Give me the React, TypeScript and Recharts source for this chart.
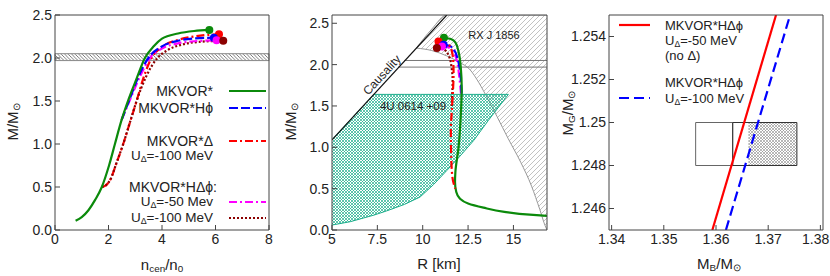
import React from 'react';
import { ComposedChart, Line, Area, Scatter, XAxis, YAxis, ReferenceArea } from 'recharts';

const FONT = '"Liberation Sans", Arial, Helvetica, sans-serif';
const INK = '#222';
const FRAME = '#444';
const GREEN = '#0b8a0b';
const BLUE = '#0000ff';
const RED = '#ff0000';
const MAGENTA = '#ff00ff';
const DARKRED = '#8b0000';
const TEAL = '#19ad8a';

// ---- left panel: M/M_sun vs n_cen/n0 ----
const mkvor = [[0.77, 0.108], [1.0, 0.15], [1.25, 0.23], [1.5, 0.35], [1.75, 0.5], [2.02, 0.75], [2.24, 1.0], [2.49, 1.28], [2.75, 1.52], [3.05, 1.76], [3.36, 2.0], [3.7, 2.14], [4.0, 2.225], [4.6, 2.285], [5.2, 2.314], [5.77, 2.326]];
const mkvorH = [[2.49, 1.28], [2.8, 1.53], [3.1, 1.77], [3.49, 2.0], [4.0, 2.135], [4.6, 2.2], [5.2, 2.228], [5.94, 2.236]];
const mkvorD = [[1.75, 0.5], [1.9, 0.52], [2.06, 0.58], [2.3, 0.78], [2.55, 1.0], [2.8, 1.25], [3.05, 1.5], [3.34, 1.8], [3.61, 2.0], [4.0, 2.13], [4.6, 2.21], [5.2, 2.25], [6.13, 2.276]];
const mkvorHD50 = [[2.49, 1.28], [2.85, 1.55], [3.2, 1.8], [3.55, 2.0], [4.0, 2.11], [4.6, 2.17], [5.2, 2.195], [6.04, 2.205]];
const mkvorHD100 = [[1.75, 0.5], [1.9, 0.52], [2.06, 0.58], [2.3, 0.78], [2.55, 1.0], [2.8, 1.25], [3.05, 1.5], [3.4, 1.78], [3.8, 1.99], [4.2, 2.09], [4.8, 2.16], [5.5, 2.19], [6.29, 2.2]];
const psrBand = [1.97, 2.05];

// ---- middle panel: M/M_sun vs R [km] ----
const rMkvor = [[11.17, 2.325], [11.55, 2.31], [11.8, 2.27], [11.97, 2.16], [12.1, 1.96], [12.15, 1.71], [12.1, 1.39], [11.97, 0.99], [11.8, 0.7], [11.78, 0.58], [11.85, 0.46], [12.05, 0.38], [12.5, 0.32], [13.35, 0.27], [14.5, 0.22], [15.9, 0.185], [16.85, 0.17]];
const rMkvorH = [[11.15, 2.24], [11.45, 2.23], [11.75, 2.17], [11.95, 2.05], [12.07, 1.9], [12.12, 1.75], [12.15, 1.65]];
const rMkvorD = [[10.87, 2.28], [11.3, 2.26], [11.55, 2.2], [11.68, 2.05], [11.7, 1.9], [11.62, 1.5], [11.55, 1.2], [11.57, 0.9], [11.63, 0.65], [11.72, 0.55], [11.8, 0.5]];
const rMkvorHD50 = [[11.06, 2.22], [11.4, 2.21], [11.7, 2.15], [11.9, 2.03], [12.0, 1.88], [12.08, 1.72], [12.13, 1.6]];
const rMkvorHD100 = [[10.78, 2.2], [11.2, 2.18], [11.45, 2.1], [11.6, 1.95], [11.65, 1.8], [11.62, 1.6], [11.6, 1.5]];
const causality = [[5, 1.09], [11.33, 2.6]];
const psrUpper = [[9.0, 2.05], [16.85, 2.05]];
const psrLower = [[8.65, 1.97], [16.85, 1.97]];

// RX J 1856 region (R, lower M, upper M)
const rxR = [9.65, 10.5, 11.33, 12.0, 12.6, 13.1, 13.6, 14.1, 14.7, 15.4, 16.0, 16.45, 16.75, 16.85];
const rxLow = [2.2, 2.17, 2.105, 2.03, 1.94, 1.78, 1.58, 1.37, 1.11, 0.82, 0.53, 0.25, 0.05, 0];
const rxHigh = [2.2, 2.43, 2.6, 2.6, 2.6, 2.6, 2.6, 2.6, 2.6, 2.6, 2.6, 2.6, 2.6, 2.6];

// 4U 0614+09 region
const uR = [5, 6, 7.31, 8, 9, 9.86, 10.6, 11.33, 12.0, 12.8, 13.6, 14.72];
const uLow = [0.06, 0.1, 0.18, 0.23, 0.31, 0.4, 0.55, 0.72, 0.88, 1.08, 1.32, 1.64];
const uHigh = [1.09, 1.33, 1.64, 1.64, 1.64, 1.64, 1.64, 1.64, 1.64, 1.64, 1.64, 1.64];

// ---- right panel: M_G vs M_B ----
const hd50 = [[1.3593, 1.245], [1.3715, 1.255]];
const hd100 = [[1.3619, 1.245], [1.3742, 1.255]];
const boxMB = [1.3561, 1.3632, 1.3662, 1.3755];
const boxMG = [1.248, 1.25];

const pts = (a: number[][]) => a.map(([x, y]) => ({ x, y }));
const first = (a: number[][]) => [{ x: a[0][0], y: a[0][1] }];
const last = (a: number[][]) => [{ x: a[a.length - 1][0], y: a[a.length - 1][1] }];
const band = (xs: number[], lo: number[], hi: number[]) => xs.map((x, i) => ({ x, r: [lo[i], hi[i]] }));
const steps = (a: number, b: number, s: number) => {
  const out: number[] = [];
  for (let i = 0; a + i * s <= b + 1e-9; i++) out.push(+(a + i * s).toFixed(6));
  return out;
};

type Dom = [number, number];
const axisLine = { stroke: FRAME, strokeWidth: 1 };
const tickFont = { fontSize: 14, fill: INK, fontFamily: FONT };

// bottom tick labels, pulled in so the last one stays inside the chart
const xTick = (fx: (v: number) => string, maxX: number) => (p: any) => {
  const s = fx(p.payload.value);
  const half = s.length * 3.6;
  return (
    <text x={Math.min(p.x, maxX - half)} y={p.y} dy="0.71em" textAnchor="middle" fontSize={14} fill={INK} fontFamily={FONT}>
      {s}
    </text>
  );
};

// each side: major axis (against the plot) + minor axis (1px outside, no axis line)
function frameAxes(w: number, xd: Dom, xMaj: number[], xMin: number[], fx: (v: number) => string,
  yd: Dom, yMaj: number[], yMin: number[], fy: (v: number) => string) {
  const base = { type: 'number' as const, allowDataOverflow: true, tickLine: axisLine, interval: 0 as const };
  return [
    <XAxis key="xb" xAxisId="x" dataKey="x" orientation="bottom" domain={xd} ticks={xMaj} height={1} tickSize={-5} tickMargin={9} tick={xTick(fx, w)} axisLine={axisLine} {...base} />,
    <XAxis key="xbm" xAxisId="xbm" orientation="bottom" domain={xd} ticks={xMin} height={1} tickSize={-4} tick={false} axisLine={false} {...base} />,
    <XAxis key="xt" xAxisId="xt" orientation="top" domain={xd} ticks={xMaj} height={1} tickSize={-5} tick={false} axisLine={axisLine} {...base} />,
    <XAxis key="xtm" xAxisId="xtm" orientation="top" domain={xd} ticks={xMin} height={1} tickSize={-4} tick={false} axisLine={false} {...base} />,
    <YAxis key="yl" yAxisId="y" orientation="left" domain={yd} ticks={yMaj} tickFormatter={fy} width={1} tickSize={-5} tickMargin={8} tick={tickFont} axisLine={axisLine} {...base} />,
    <YAxis key="ylm" yAxisId="ylm" orientation="left" domain={yd} ticks={yMin} width={1} tickSize={-4} tick={false} axisLine={false} {...base} />,
    <YAxis key="yr" yAxisId="yr" orientation="right" domain={yd} ticks={yMaj} width={1} tickSize={-5} tick={false} axisLine={axisLine} {...base} />,
    <YAxis key="yrm" yAxisId="yrm" orientation="right" domain={yd} ticks={yMin} width={1} tickSize={-4} tick={false} axisLine={false} {...base} />,
  ];
}

const dot = (color: string) => (p: any) => <circle cx={p.cx} cy={p.cy} r={4} fill={color} />;

function T({ x, y, a = 'start', size = 14, rot = 0, children }: { x: number; y: number; a?: string; size?: number; rot?: number; children: React.ReactNode }) {
  const tx = a === 'middle' ? '-50%' : a === 'end' ? '-100%' : '0%';
  return (
    <div style={{ position: 'absolute', left: x, top: y, transform: `translate(${tx}, -50%) rotate(${rot}deg)`, fontSize: size, fontFamily: FONT, color: INK, whiteSpace: 'nowrap', lineHeight: 1 }}>
      {children}
    </div>
  );
}
const Sub = ({ children }: { children: React.ReactNode }) => (
  <span style={{ fontSize: '0.66em', position: 'relative', top: '0.22em' }}>{children}</span>
);
function Sample({ x, y, w, color, dash, width = 2.2 }: { x: number; y: number; w: number; color: string; dash?: string; width?: number }) {
  return (
    <svg style={{ position: 'absolute', left: x, top: y - 3 }} width={w} height={6}>
      <line x1={0} y1={3} x2={w} y2={3} stroke={color} strokeWidth={width} strokeDasharray={dash} />
    </svg>
  );
}

const ln = { xAxisId: 'x', yAxisId: 'y', dataKey: 'y', dot: false, isAnimationActive: false, strokeWidth: 2.2 };

export default function App() {
  return (
    <div style={{ position: 'absolute', left: 0, top: 0, width: 830, height: 276, background: '#fff', overflow: 'hidden' }}>
      {/* left panel */}
      <div style={{ position: 'absolute', left: 0, top: 0 }}>
        <ComposedChart width={280} height={276} margin={{ top: 13, left: 53, right: 9, bottom: 44 }}>
          <defs>
            <pattern id="hatchBand" patternUnits="userSpaceOnUse" width={3.5} height={3.5}>
              <path d="M0,0 L3.5,3.5 M-1,2.5 L1,4.5 M2.5,-1 L4.5,1" stroke="#444" strokeWidth={0.7} />
            </pattern>
          </defs>
          {frameAxes(280, [0, 8], [0, 2, 4, 6, 8], steps(0, 8, 0.5), (v) => String(v),
            [0, 2.5], steps(0, 2.5, 0.5), steps(0, 2.5, 0.25), (v) => v.toFixed(1))}
          <ReferenceArea xAxisId="x" yAxisId="y" x1={0} x2={8} y1={psrBand[0]} y2={psrBand[1]} fill="url(#hatchBand)" fillOpacity={1} stroke="#888" strokeWidth={1} />
          <Line {...ln} data={pts(mkvorD)} type="monotone" stroke={RED} strokeDasharray="8 3 2 3" />
          <Line {...ln} data={pts(mkvorHD100)} type="monotone" stroke={DARKRED} strokeDasharray="2 2" />
          <Line {...ln} data={pts(mkvorHD50)} type="monotone" stroke={MAGENTA} strokeDasharray="8 3 2 3" />
          <Line {...ln} data={pts(mkvorH)} type="monotone" stroke={BLUE} strokeDasharray="9 3" />
          <Line {...ln} data={pts(mkvor)} type="monotone" stroke={GREEN} />
          <Scatter xAxisId="x" yAxisId="y" dataKey="y" data={last(mkvor)} shape={dot(GREEN)} isAnimationActive={false} />
          <Scatter xAxisId="x" yAxisId="y" dataKey="y" data={last(mkvorD)} shape={dot(RED)} isAnimationActive={false} />
          <Scatter xAxisId="x" yAxisId="y" dataKey="y" data={last(mkvorH)} shape={dot(BLUE)} isAnimationActive={false} />
          <Scatter xAxisId="x" yAxisId="y" dataKey="y" data={last(mkvorHD50)} shape={dot(MAGENTA)} isAnimationActive={false} />
          <Scatter xAxisId="x" yAxisId="y" dataKey="y" data={last(mkvorHD100)} shape={dot(DARKRED)} isAnimationActive={false} />
        </ComposedChart>
      </div>

      {/* middle panel */}
      <div style={{ position: 'absolute', left: 280, top: 0 }}>
        <ComposedChart width={280} height={276} margin={{ top: 13, left: 50, right: 11, bottom: 44 }}>
          <defs>
            <pattern id="hatchGray" patternUnits="userSpaceOnUse" width={5} height={5}>
              <path d="M0,5 L5,0 M-1,1 L1,-1 M4,6 L6,4" stroke="#999" strokeWidth={0.6} />
            </pattern>
            <pattern id="hatchTeal" patternUnits="userSpaceOnUse" width={3} height={3}>
              <path d="M0,0 L3,3 M0,3 L3,0" stroke={TEAL} strokeWidth={0.7} />
            </pattern>
          </defs>
          {frameAxes(280, [5, 16.85], [5, 7.5, 10, 12.5, 15], steps(5, 16.5, 0.5), (v) => String(v),
            [0, 2.6], steps(0, 2.5, 0.5), steps(0, 2.5, 0.25), (v) => v.toFixed(1))}
          <Area xAxisId="x" yAxisId="y" dataKey="r" data={band(rxR, rxLow, rxHigh)} type="monotone" fill="url(#hatchGray)" fillOpacity={1} stroke="#999" strokeWidth={1} isAnimationActive={false} />
          <Area xAxisId="x" yAxisId="y" dataKey="r" data={band(uR, uLow, uHigh)} type="linear" fill="url(#hatchTeal)" fillOpacity={1} stroke={TEAL} strokeWidth={1} isAnimationActive={false} />
          <Line {...ln} data={pts(psrUpper)} type="linear" stroke="#777" strokeWidth={1} />
          <Line {...ln} data={pts(psrLower)} type="linear" stroke="#777" strokeWidth={1} />
          <Line {...ln} data={pts(causality)} type="linear" stroke="#111" strokeWidth={1.2} />
          <Line {...ln} data={pts(rMkvorHD100)} type="monotoneY" stroke={DARKRED} strokeDasharray="2 2" />
          <Line {...ln} data={pts(rMkvorHD50)} type="monotoneY" stroke={MAGENTA} strokeDasharray="8 3 2 3" />
          <Line {...ln} data={pts(rMkvorH)} type="monotoneY" stroke={BLUE} strokeDasharray="9 3" />
          <Line {...ln} data={pts(rMkvor)} type="monotoneY" stroke={GREEN} />
          <Line {...ln} data={pts(rMkvorD)} type="monotoneY" stroke={RED} strokeDasharray="8 3 2 3" />
          <Scatter xAxisId="x" yAxisId="y" dataKey="y" data={first(rMkvor)} shape={dot(GREEN)} isAnimationActive={false} />
          <Scatter xAxisId="x" yAxisId="y" dataKey="y" data={first(rMkvorD)} shape={dot(RED)} isAnimationActive={false} />
          <Scatter xAxisId="x" yAxisId="y" dataKey="y" data={first(rMkvorH)} shape={dot(BLUE)} isAnimationActive={false} />
          <Scatter xAxisId="x" yAxisId="y" dataKey="y" data={first(rMkvorHD50)} shape={dot(MAGENTA)} isAnimationActive={false} />
          <Scatter xAxisId="x" yAxisId="y" dataKey="y" data={first(rMkvorHD100)} shape={dot(DARKRED)} isAnimationActive={false} />
        </ComposedChart>
      </div>

      {/* right panel */}
      <div style={{ position: 'absolute', left: 560, top: 0 }}>
        <ComposedChart width={270} height={276} margin={{ top: 13, left: 47, right: 5, bottom: 44 }}>
          <defs>
            <pattern id="hatchCross" patternUnits="userSpaceOnUse" width={3} height={3}>
              <path d="M0,0 L3,3 M0,3 L3,0" stroke="#888" strokeWidth={0.6} />
            </pattern>
          </defs>
          {frameAxes(270, [1.3395, 1.3805], [1.34, 1.35, 1.36, 1.37, 1.38], steps(1.34, 1.38, 0.002), (v) => v.toFixed(2),
            [1.245, 1.255], [1.246, 1.248, 1.25, 1.252, 1.254], steps(1.245, 1.255, 0.0005), (v) => String(+v.toFixed(3)))}
          <ReferenceArea xAxisId="x" yAxisId="y" x1={boxMB[2]} x2={boxMB[3]} y1={boxMG[0]} y2={boxMG[1]} fill="url(#hatchCross)" fillOpacity={1} stroke="none" />
          <ReferenceArea xAxisId="x" yAxisId="y" x1={boxMB[0]} x2={boxMB[1]} y1={boxMG[0]} y2={boxMG[1]} fill="none" stroke="#666" strokeWidth={1} />
          <ReferenceArea xAxisId="x" yAxisId="y" x1={boxMB[1]} x2={boxMB[3]} y1={boxMG[0]} y2={boxMG[1]} fill="none" stroke="#333" strokeWidth={1} />
          <Line {...ln} data={pts(hd50)} type="linear" stroke={RED} />
          <Line {...ln} data={pts(hd100)} type="linear" stroke={BLUE} strokeDasharray="10 5" />
        </ComposedChart>
      </div>

      {/* text layer */}
      <div style={{ position: 'absolute', left: 0, top: 0, width: 830, height: 276, pointerEvents: 'none' }}>
        <T x={12} y={122} a="middle" size={15} rot={-90}>M/M<Sub>⊙</Sub></T>
        <T x={162} y={264} a="middle" size={15}>n<Sub>cen</Sub>/n<Sub>0</Sub></T>
        <T x={213} y={91} a="end">MKVOR*</T>
        <T x={213} y={108} a="end">MKVOR*Hϕ</T>
        <T x={213} y={141} a="end">MKVOR*Δ</T>
        <T x={213} y={156} a="end" size={13.5}>U<Sub>Δ</Sub>=-100 MeV</T>
        <T x={217} y={187} a="end">MKVOR*HΔϕ:</T>
        <T x={213} y={202} a="end" size={13.5}>U<Sub>Δ</Sub>=-50 Mev</T>
        <T x={213} y={218} a="end" size={13.5}>U<Sub>Δ</Sub>=-100 MeV</T>
        <Sample x={229} y={91} w={37} color={GREEN} />
        <Sample x={229} y={108} w={37} color={BLUE} dash="9 3" />
        <Sample x={229} y={141} w={37} color={RED} dash="8 3 2 3" />
        <Sample x={229} y={202} w={37} color={MAGENTA} dash="8 3 2 3" />
        <Sample x={229} y={218} w={37} color={DARKRED} dash="2 2" />

        <T x={290} y={122} a="middle" size={15} rot={-90}>M/M<Sub>⊙</Sub></T>
        <T x={439} y={263} a="middle" size={15}>R [km]</T>
        <T x={494} y={35} a="middle" size={11}>RX J 1856</T>
        <T x={413} y={107} a="middle" size={11.5}>4U 0614 +09</T>
        <T x={382} y={75} a="middle" size={12} rot={-47.4}>Causality</T>

        <T x={567} y={113} a="middle" size={15} rot={-90}>M<Sub>G</Sub>/M<Sub>⊙</Sub></T>
        <T x={719} y={263} a="middle" size={15}>M<Sub>B</Sub>/M<Sub>⊙</Sub></T>
        <Sample x={619} y={25} w={31} color={RED} />
        <T x={665} y={25} size={13}>MKVOR*HΔϕ</T>
        <T x={665} y={40} size={13}>U<Sub>Δ</Sub>=-50 MeV</T>
        <T x={665} y={55} size={13}>(no Δ)</T>
        <T x={665} y={82} size={13}>MKVOR*HΔϕ</T>
        <Sample x={619} y={98} w={31} color={BLUE} dash="10 5" />
        <T x={665} y={98} size={13}>U<Sub>Δ</Sub>=-100 MeV</T>
      </div>
    </div>
  );
}
